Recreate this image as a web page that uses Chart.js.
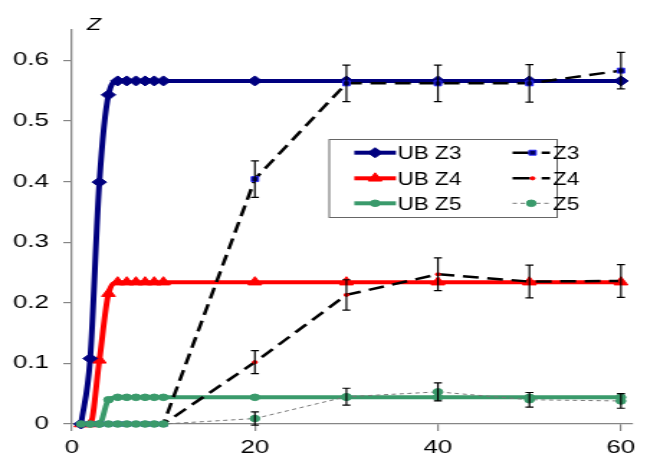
<!DOCTYPE html>
<html>
<head>
<meta charset="utf-8">
<script src="https://cdn.jsdelivr.net/npm/chart.js@4.4.0/dist/chart.umd.min.js"></script>
<style>
  html, body { margin: 0; padding: 0; background: #fff; overflow: hidden; }
  /* the original picture is stretched sideways, so the chart is drawn narrow and widened */
  #wrap { width: 450px; height: 457px; transform: scaleX(1.4378); transform-origin: 0 0; }
</style>
</head>
<body>
<div id="wrap"><canvas id="myChart"></canvas></div>
<script>
// time points (x)
const tDays = [1, 2, 3, 4, 5, 6, 7, 8, 9, 10, 20, 30, 40, 50, 60];

// upper bound curves
const ubZ3 = [0, 0.108, 0.399, 0.543, 0.566, 0.566, 0.566, 0.566, 0.566, 0.566, 0.566, 0.566, 0.566, 0.566, 0.566];
const ubZ4 = [0, 0, 0.105, 0.215, 0.234, 0.234, 0.234, 0.234, 0.234, 0.234, 0.234, 0.234, 0.234, 0.234, 0.234];
const ubZ5 = [0, 0, 0, 0.040, 0.044, 0.044, 0.044, 0.044, 0.044, 0.044, 0.044, 0.044, 0.044, 0.044, 0.044];

// measured values and their error bars
const z3 = [0, 0, 0, 0, 0, 0, 0, 0, 0, 0, 0.404, 0.562, 0.562, 0.562, 0.583];
const z3Err = [0, 0, 0, 0, 0, 0, 0, 0, 0, 0, 0.030, 0.030, 0.030, 0.031, 0.030];
const z4 = [0, 0, 0, 0, 0, 0, 0, 0, 0, 0, 0.102, 0.213, 0.247, 0.235, 0.236];
const z4Err = [0, 0, 0, 0, 0, 0, 0, 0, 0, 0, 0.019, 0.025, 0.027, 0.027, 0.027];
const z5 = [0, 0, 0, 0, 0, 0, 0, 0, 0, 0, 0.009, 0.045, 0.053, 0.040, 0.038];
const z5Err = [0, 0, 0, 0, 0, 0, 0, 0, 0, 0, 0.011, 0.014, 0.015, 0.012, 0.012];

const xTicks = [0, 20, 40, 60];
const yTicks = [0, 0.1, 0.2, 0.3, 0.4, 0.5, 0.6];

const NAVY = '#00007f';
const RED = '#ff0000';
const GREEN = '#3a9a6b';
const AXIS = '#868686';
const FONT = '"Liberation Sans", Arial, sans-serif';

const pts = vals => tDays.map((t, i) => ({ x: t, y: vals[i] }));

// error bars on the measured series
const errorBars = {
  id: 'errorBars',
  afterDatasetsDraw(chart) {
    const { ctx, scales: { x, y } } = chart;
    ctx.save();
    ctx.strokeStyle = '#000';
    ctx.lineWidth = 1.2;
    [[z3, z3Err], [z4, z4Err], [z5, z5Err]].forEach(([vals, errs]) => {
      tDays.forEach((t, i) => {
        if (!errs[i]) return;
        const px = x.getPixelForValue(t);
        const top = y.getPixelForValue(vals[i] + errs[i]);
        const bot = y.getPixelForValue(vals[i] - errs[i]);
        ctx.beginPath();
        ctx.moveTo(px, top); ctx.lineTo(px, bot);
        ctx.moveTo(px - 2.8, top); ctx.lineTo(px + 2.8, top);
        ctx.moveTo(px - 2.8, bot); ctx.lineTo(px + 2.8, bot);
        ctx.stroke();
      });
    });
    ctx.restore();
  }
};

// axis title and the boxed legend inside the plot
const extras = {
  id: 'extras',
  afterDraw(chart) {
    const ctx = chart.ctx;
    const drawPoint = Chart.helpers.drawPoint;
    ctx.save();
    ctx.fillStyle = '#000';
    ctx.font = 'italic 16px ' + FONT;
    ctx.textBaseline = 'alphabetic';
    ctx.fillText('Z', 60.5, 30);

    // legend box
    ctx.strokeStyle = '#666';
    ctx.lineWidth = 1;
    ctx.strokeRect(229, 139.5, 158.5, 78);

    const rows = [152.7, 178.3, 203.3];
    const label = (txt, x, y) => {
      ctx.save();
      ctx.translate(x, y + 6.5);
      ctx.scale(0.87, 1);
      ctx.fillStyle = '#000';
      ctx.font = '18px ' + FONT;
      ctx.fillText(txt, 0, 0);
      ctx.restore();
    };
    const ub = [
      ['UB Z3', NAVY, 'rectRot', 5],
      ['UB Z4', RED, 'triangle', 5.5],
      ['UB Z5', GREEN, 'circle', 3.3]
    ];
    ub.forEach(([txt, col, style, r], k) => {
      const y = rows[k];
      ctx.strokeStyle = col;
      ctx.lineWidth = 4;
      ctx.beginPath(); ctx.moveTo(246.4, y); ctx.lineTo(275.4, y); ctx.stroke();
      ctx.fillStyle = col;
      ctx.lineWidth = 1;
      drawPoint(ctx, { pointStyle: style, radius: r, rotation: 0, borderWidth: 1 }, 260.9, y);
      label(txt, 276.5, y);
    });

    // measured series symbols
    ctx.strokeStyle = '#000';
    ctx.lineWidth = 2.5;
    [0, 1].forEach(k => {
      const y = rows[k];
      ctx.beginPath();
      ctx.moveTo(356.5, y); ctx.lineTo(368.6, y);
      ctx.moveTo(376.7, y); ctx.lineTo(382.5, y);
      ctx.stroke();
    });
    ctx.fillStyle = '#000060';
    ctx.strokeStyle = '#2a2aff';
    ctx.lineWidth = 1;
    drawPoint(ctx, { pointStyle: 'rect', radius: 3.5, rotation: 0, borderWidth: 1 }, 370.4, rows[0]);
    ctx.fillStyle = RED;
    ctx.strokeStyle = RED;
    drawPoint(ctx, { pointStyle: 'circle', radius: 1.6, rotation: 0, borderWidth: 1 }, 370.4, rows[1]);
    ctx.strokeStyle = '#777';
    ctx.lineWidth = 1;
    ctx.setLineDash([3, 2.5]);
    ctx.beginPath(); ctx.moveTo(356.5, rows[2]); ctx.lineTo(382.5, rows[2]); ctx.stroke();
    ctx.setLineDash([]);
    ctx.fillStyle = GREEN;
    ctx.strokeStyle = GREEN;
    drawPoint(ctx, { pointStyle: 'circle', radius: 3.3, rotation: 0, borderWidth: 1 }, 369.5, rows[2]);
    label('Z3', 384.6, rows[0]);
    label('Z4', 384.6, rows[1]);
    label('Z5', 384.6, rows[2]);
    ctx.restore();
  }
};

const ctx = document.getElementById('myChart');

new Chart(ctx, {
  type: 'line',
  data: {
    datasets: [
      {
        label: 'UB Z3', data: pts(ubZ3), order: 4,
        borderColor: NAVY, backgroundColor: NAVY, borderWidth: 4,
        pointStyle: 'rectRot', pointRadius: 5, pointBorderWidth: 1,
        cubicInterpolationMode: 'monotone'
      },
      {
        label: 'UB Z4', data: pts(ubZ4), order: 5,
        borderColor: RED, backgroundColor: RED, borderWidth: 4,
        pointStyle: 'triangle', pointRadius: 5.5, pointBorderWidth: 1,
        cubicInterpolationMode: 'monotone'
      },
      {
        label: 'UB Z5', data: pts(ubZ5), order: 6,
        borderColor: GREEN, backgroundColor: GREEN, borderWidth: 4,
        pointStyle: 'circle', pointRadius: 3.3, pointBorderWidth: 1,
        cubicInterpolationMode: 'monotone'
      },
      {
        label: 'Z3', data: pts(z3), order: 2,
        borderColor: '#000', borderWidth: 2.5, borderDash: [11, 6],
        pointStyle: 'rect', pointRadius: 3.5, pointBorderWidth: 1,
        pointBackgroundColor: '#000060', pointBorderColor: '#2a2aff'
      },
      {
        label: 'Z4', data: pts(z4), order: 1,
        borderColor: '#000', borderWidth: 2.5, borderDash: [11, 6],
        pointStyle: 'circle', pointRadius: 1.6, pointBorderWidth: 1,
        pointBackgroundColor: RED, pointBorderColor: RED
      },
      {
        label: 'Z5', data: pts(z5), order: 0,
        borderColor: '#777', borderWidth: 1, borderDash: [3, 2.5],
        pointStyle: 'circle', pointRadius: 3.3, pointBorderWidth: 1,
        pointBackgroundColor: GREEN, pointBorderColor: GREEN
      }
    ]
  },
  options: {
    responsive: true,
    maintainAspectRatio: false,
    animation: false,
    events: [],
    clip: false,
    layout: { padding: { top: 30, right: 10.5, left: 0, bottom: 0 } },
    plugins: { legend: { display: false }, tooltip: { enabled: false } },
    scales: {
      x: {
        type: 'linear', min: 0, max: 61.2,
        afterBuildTicks: s => { s.ticks = xTicks.map(v => ({ value: v })); },
        afterFit: s => { s.height = 33; },
        ticks: { color: '#000', font: { family: FONT, size: 18 }, padding: 6, maxRotation: 0 },
        grid: { drawOnChartArea: false, tickLength: 7, color: AXIS, lineWidth: 1.2 },
        border: { color: AXIS, width: 1.3 }
      },
      y: {
        min: 0, max: 0.65,
        afterBuildTicks: s => { s.ticks = yTicks.map(v => ({ value: v })); },
        afterFit: s => { s.width = 50; },
        ticks: { color: '#000', font: { family: FONT, size: 18 }, padding: 10 },
        grid: { drawOnChartArea: false, tickLength: 6, color: AXIS, lineWidth: 1.2 },
        border: { color: AXIS, width: 1.3 }
      }
    }
  },
  plugins: [errorBars, extras]
});
</script>
</body>
</html>
